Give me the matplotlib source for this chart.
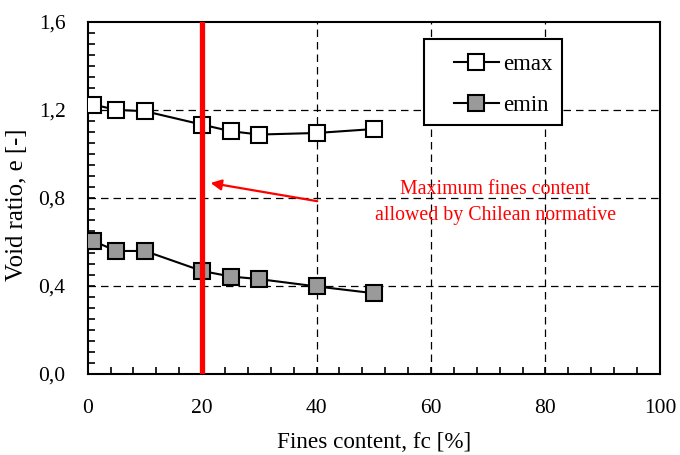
import matplotlib
matplotlib.use("Agg")
import matplotlib.pyplot as plt
from matplotlib.patches import Rectangle
from matplotlib.ticker import MultipleLocator, FuncFormatter

fc = [1, 5, 10, 20, 25, 30, 40, 50]
emax = [1.224, 1.200, 1.194, 1.133, 1.103, 1.088, 1.095, 1.113]
emin = [0.604, 0.559, 0.559, 0.468, 0.443, 0.431, 0.398, 0.367]
limit_fc = 20
note = "Maximum fines content\nallowed by Chilean normative"

plt.rcParams['font.family'] = ['Liberation Serif', 'DejaVu Serif']

fig = plt.figure(figsize=(6.8, 4.55), dpi=100)
ax = fig.add_axes([0.129, 0.178, 0.8414, 0.774])

ax.set_xlim(0, 100)
ax.set_ylim(0, 1.6)

for v in [40, 60, 80]:
    ax.axvline(v, color='black', lw=0.9, ls=(0, (6, 4)), zorder=1)
for v in [0.4, 0.8, 1.2]:
    ax.axhline(v, color='black', lw=0.9, ls=(0, (6, 4)), zorder=1)

ax.plot(fc, emax, '-s', color='black', lw=1.5, ms=11.5, mfc='white',
        mec='black', mew=1.5, label='emax', zorder=4)
ax.plot(fc, emin, '-s', color='black', lw=1.5, ms=11.5, mfc='#9a9a9a',
        mec='black', mew=1.5, label='emin', zorder=4)

ax.axvline(limit_fc, color='#ff0000', lw=3.8, zorder=5)

ax.annotate('', xy=(21.0, 0.87), xytext=(40.6, 0.783),
            arrowprops=dict(arrowstyle='-|>', color='#ff0000', lw=1.6,
                            mutation_scale=16), zorder=6)
ax.text(71.2, 0.777, note, color='#ff0000', ha='center', va='center',
        fontsize=14.3, linespacing=1.5)

ax.xaxis.set_major_locator(MultipleLocator(20))
ax.xaxis.set_minor_locator(MultipleLocator(4))
ax.yaxis.set_major_locator(MultipleLocator(0.4))
ax.yaxis.set_minor_locator(MultipleLocator(0.05))
ax.yaxis.set_major_formatter(FuncFormatter(lambda v, p: f"{v:.1f}".replace('.', ',')))
ax.tick_params(which='both', direction='in', length=5, width=1.2,
               labelsize=15.5, top=False, right=False)
ax.tick_params(axis='x', pad=18)
ax.tick_params(axis='y', pad=16)
for s in ax.spines.values():
    s.set_linewidth(1.5)

ax.set_xlabel('Fines content, fc [%]', fontsize=16.7, labelpad=10)
ax.set_ylabel('Void ratio, e [-]', fontsize=17.8)
ax.yaxis.set_label_coords(-0.105, 0.48)

box = Rectangle((0.587, 0.707), 0.242, 0.245, transform=ax.transAxes,
                facecolor='white', edgecolor='black', lw=1.5, zorder=7)
ax.add_patch(box)
leg = ax.legend(loc='center', bbox_to_anchor=(0.726, 0.821),
                fontsize=16.5, frameon=False, borderpad=0, labelspacing=0.88,
                handlelength=1.96, handletextpad=0.17, borderaxespad=0)
leg.set_zorder(8)

fig.savefig('out.png', dpi=100)
